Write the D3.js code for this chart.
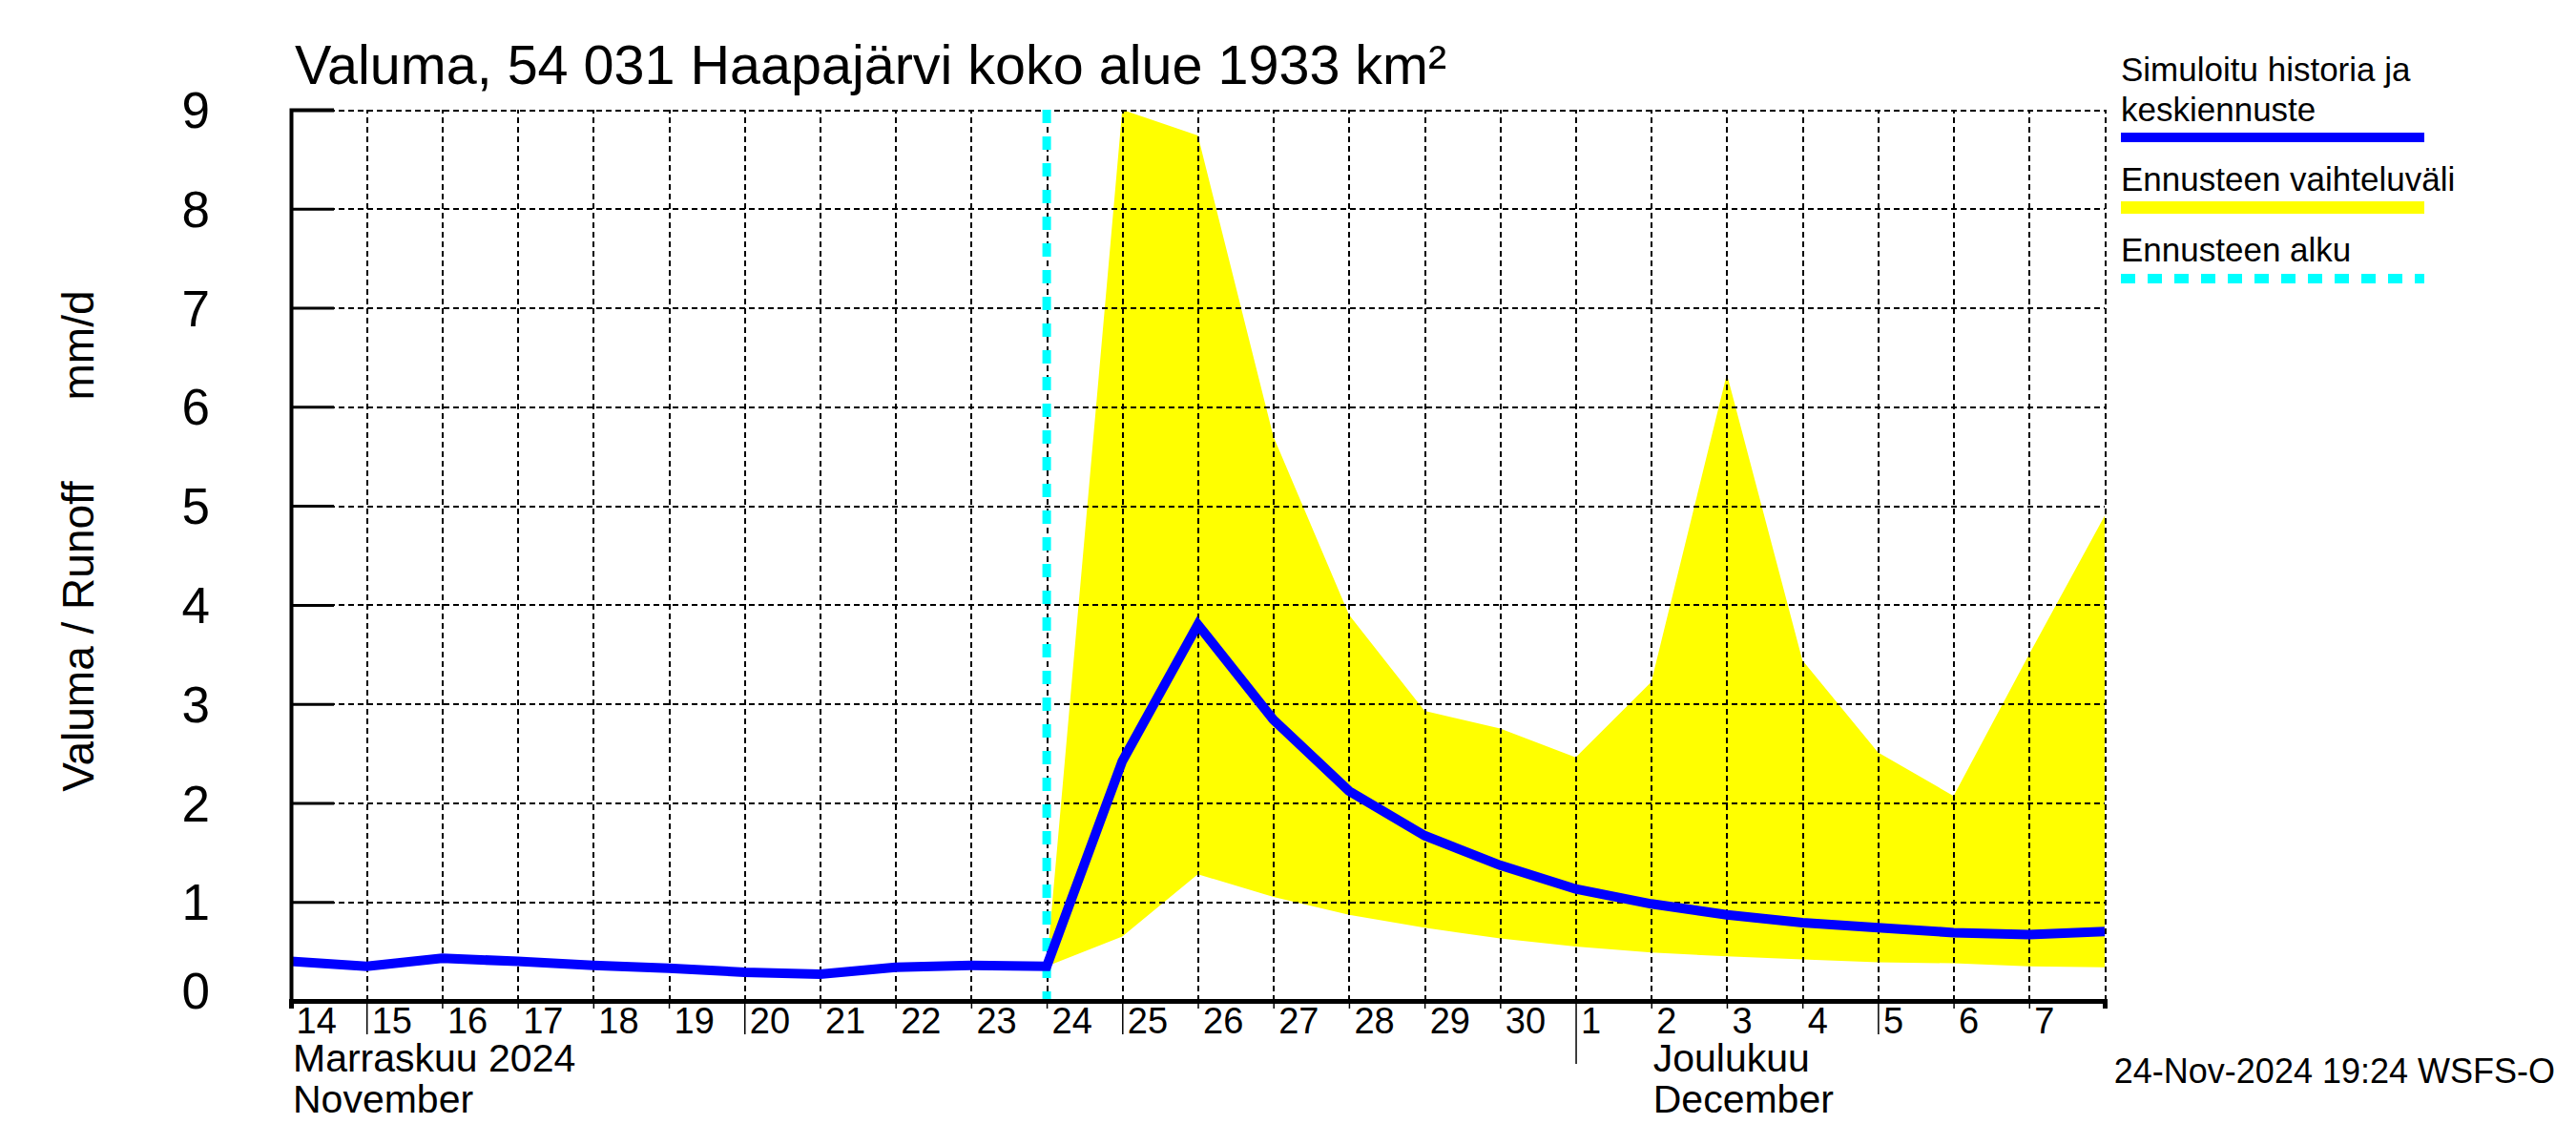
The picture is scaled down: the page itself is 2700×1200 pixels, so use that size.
<!DOCTYPE html>
<html>
<head>
<meta charset="utf-8">
<script src="https://cdn.jsdelivr.net/npm/d3@7"></script>
<style>
  body { margin: 0; background: #fff; }
  text { font-family: "Liberation Sans", Arial, sans-serif; fill: #000; }
</style>
</head>
<body>
<div id="chart-area"></div>
<script>
// simulated runoff history + mean forecast, mm/d (00:00 of each day)
const simDates = ["2024-11-14","2024-11-15","2024-11-16","2024-11-17","2024-11-18","2024-11-19",
  "2024-11-20","2024-11-21","2024-11-22","2024-11-23","2024-11-24","2024-11-25","2024-11-26",
  "2024-11-27","2024-11-28","2024-11-29","2024-11-30","2024-12-01","2024-12-02","2024-12-03",
  "2024-12-04","2024-12-05","2024-12-06","2024-12-07","2024-12-08"]
const simValues = [0.40, 0.35, 0.43, 0.40, 0.36, 0.33, 0.29, 0.27, 0.34, 0.36, 0.35,
  2.42, 3.80, 2.84, 2.12, 1.67, 1.37, 1.13, 0.98, 0.87, 0.79, 0.74, 0.69, 0.67, 0.70]

// forecast range
const fcDates = simDates.slice(10)
const fcHigh = [0.35, 9.0, 8.74, 5.70, 3.90, 2.93, 2.75, 2.46, 3.22, 6.33, 3.44, 2.51, 2.07, 3.50, 4.90]
const fcLow = [0.35, 0.65, 1.28, 1.05, 0.87, 0.74, 0.63, 0.55, 0.49, 0.45, 0.42, 0.39, 0.38, 0.35, 0.34]

const forecastStart = "2024-11-24"
const yTicks = [0, 1, 2, 3, 4, 5, 6, 7, 8, 9]

const legendItems = ["Simuloitu historia ja", "keskiennuste", "Ennusteen vaihteluväli", "Ennusteen alku"]

const LEFT = 305, RIGHT = 2206, TOP = 115, BOTTOM = 1049
const parse = d3.utcParse("%Y-%m-%d")

const svg = d3.select("#chart-area")
    .append("svg")
    .attr("width", 2700)
    .attr("height", 1200)

svg.append("rect").attr("width", 2700).attr("height", 1200).attr("fill", "#fff")

const x = d3.scaleUtc()
    .domain([parse("2024-11-14"), parse("2024-12-08")])
    .range([LEFT, RIGHT])

const y = d3.scaleLinear()
    .domain([0, 9])
    .range([BOTTOM, TOP])

// yellow range
const band = fcDates.map((d, i) => ({ date: parse(d), lo: fcLow[i], hi: fcHigh[i] }))
svg.append("path")
    .datum(band)
    .attr("fill", "#ffff00")
    .attr("d", d3.area()
        .x(d => x(d.date))
        .y0(d => y(d.lo))
        .y1(d => y(d.hi)))

// grid
const days = d3.utcDay.range(parse("2024-11-14"), d3.utcDay.offset(parse("2024-12-08"), 1))
svg.append("g")
    .attr("transform", `translate(0, ${BOTTOM})`)
    .call(d3.axisBottom(x).tickValues(days.slice(1)).tickSize(-(BOTTOM - TOP)).tickFormat(""))
    .call(g => g.select(".domain").remove())
    .selectAll("line")
    .attr("stroke", "#000")
    .attr("stroke-width", 2)
    .attr("shape-rendering", "crispEdges")
    .attr("stroke-dasharray", "6,4")

svg.append("g")
    .attr("transform", `translate(${LEFT}, 0)`)
    .call(d3.axisLeft(y).tickValues(yTicks.slice(1)).tickSize(-(RIGHT - LEFT)).tickFormat(""))
    .call(g => g.select(".domain").remove())
    .selectAll("line")
    .attr("stroke", "#000")
    .attr("stroke-width", 2)
    .attr("shape-rendering", "crispEdges")
    .attr("stroke-dasharray", "6,4")

// forecast start line
svg.append("line")
    .attr("x1", x(parse(forecastStart)))
    .attr("x2", x(parse(forecastStart)))
    .attr("y1", TOP)
    .attr("y2", BOTTOM)
    .attr("stroke", "#00ffff")
    .attr("stroke-width", 9)
    .attr("stroke-dasharray", "14,14")

// blue line
svg.append("path")
    .datum(simDates.map((d, i) => ({ date: parse(d), v: simValues[i] })))
    .attr("fill", "none")
    .attr("stroke", "#0000ff")
    .attr("stroke-width", 10)
    .attr("stroke-linejoin", "miter")
    .attr("d", d3.line().x(d => x(d.date)).y(d => y(d.v)))

// y axis
const yAxis = svg.append("g")
    .attr("transform", `translate(${LEFT}, 0)`)
    .call(d3.axisLeft(y).tickValues(yTicks).tickSize(-45).tickPadding(85))
yAxis.select(".domain").attr("stroke", "#000").attr("stroke-width", 4)
yAxis.selectAll(".tick line").attr("stroke", "#000").attr("stroke-width", 3)
yAxis.selectAll(".tick text")
    .attr("font-size", 53)
    .attr("font-family", "Liberation Sans, Arial, sans-serif")
    .attr("dy", d => d === 0 ? "0.15em" : "0.35em")

// x axis
const xAxis = svg.append("g")
    .attr("transform", `translate(0, ${BOTTOM})`)
    .call(d3.axisBottom(x).tickValues(days.slice(0, -1)).tickSize(8).tickFormat(d3.utcFormat("%-d")))
xAxis.select(".domain").attr("stroke", "#000").attr("stroke-width", 5)
xAxis.selectAll(".tick line")
    .attr("stroke", "#000")
    .attr("stroke-width", 1.5)
    .attr("y2", d => d.getUTCDate() === 1 ? 66 : (d.getUTCDate() % 5 === 0 && d.getUTCDate() < 30 ? 35 : 8))
xAxis.selectAll(".tick text")
    .attr("font-size", 38)
    .attr("font-family", "Liberation Sans, Arial, sans-serif")
    .attr("text-anchor", "start")
    .attr("x", 5)
    .attr("y", 34)
    .attr("dy", 0)

// month labels
const monthLabels = [
  { date: "2024-11-14", lines: ["Marraskuu 2024", "November"] },
  { date: "2024-12-02", lines: ["Joulukuu", "December"] }
]
monthLabels.forEach(m => {
  m.lines.forEach((t, i) => {
    svg.append("text")
      .attr("x", x(parse(m.date)) + 2)
      .attr("y", 1123 + i * 43)
      .attr("font-size", 41)
      .text(t)
  })
})

// title
svg.append("text")
    .attr("x", 309)
    .attr("y", 88)
    .attr("font-size", 57.5)
    .text("Valuma, 54 031 Haapajärvi koko alue 1933 km²")

// y label
svg.append("text")
    .attr("transform", "translate(98, 667) rotate(-90)")
    .attr("text-anchor", "middle")
    .attr("font-size", 46)
    .text("Valuma / Runoff")
svg.append("text")
    .attr("transform", "translate(98, 362) rotate(-90)")
    .attr("text-anchor", "middle")
    .attr("font-size", 46)
    .text("mm/d")

// legend
const lg = svg.append("g").attr("transform", "translate(2223, 0)")
const legendY = [85, 127, 200, 274]
legendItems.forEach((t, i) => {
  lg.append("text").attr("x", 0).attr("y", legendY[i]).attr("font-size", 35).text(t)
})
lg.append("line").attr("x1", 0).attr("x2", 318).attr("y1", 144).attr("y2", 144)
    .attr("stroke", "#0000ff").attr("stroke-width", 10)
lg.append("line").attr("x1", 0).attr("x2", 318).attr("y1", 217.5).attr("y2", 217.5)
    .attr("stroke", "#ffff00").attr("stroke-width", 13)
lg.append("line").attr("x1", 0).attr("x2", 318).attr("y1", 292).attr("y2", 292)
    .attr("stroke", "#00ffff").attr("stroke-width", 10).attr("stroke-dasharray", "15,13")

// footer
svg.append("text")
    .attr("x", 2678)
    .attr("y", 1135)
    .attr("text-anchor", "end")
    .attr("font-size", 36)
    .text("24-Nov-2024 19:24 WSFS-O")
</script>
</body>
</html>
